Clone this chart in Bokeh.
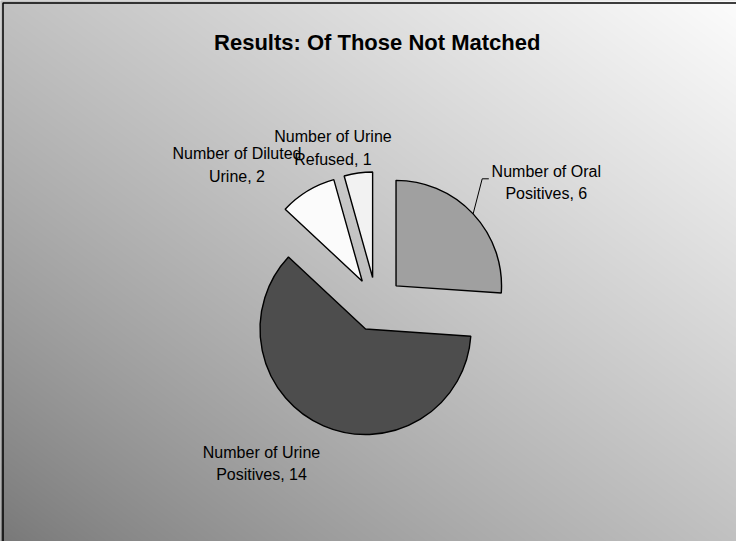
import numpy as np
from bokeh.plotting import figure
from bokeh.models import Range1d, ColumnDataSource
from bokeh.embed import file_html
from bokeh.resources import INLINE
from bokeh.core.properties import value

# ---------------- data ----------------
title_text = "Results: Of Those Not Matched"
categories = ["Oral Positives", "Urine Positives", "Diluted Urine", "Urine Refused"]
counts = [6, 14, 2, 1]
label_line1 = ["Number of Oral", "Number of Urine", "Number of Diluted", "Number of Urine"]
label_line2_word = ["Positives", "Positives", "Urine", "Refused"]

# ---------------- styles / layout ----------------
W, H = 736, 541
slice_colors = ["#a0a0a0", "#4d4d4d", "#fbfbfb", "#f2f2f2"]
pie_cx, pie_cy_screen = 375.8, 303.8
radius = 105.5
explode = 27.0
label_anchor = [(545.8, 170.7), (261.0, 451.8), (236.5, 153.3), (332.5, 136.0)]  # (center x, line1 baseline, screen y)
line_gap = 22.5
FONT = "Liberation Sans"


def sy(y):  # screen y -> data y
    return H - y


p = figure(width=W, height=H, output_backend="svg", toolbar_location=None,
           x_range=Range1d(0, W), y_range=Range1d(0, H),
           min_border=0, min_border_left=0, min_border_right=0,
           min_border_top=0, min_border_bottom=0)
p.axis.visible = False
p.grid.visible = False
p.outline_line_color = None
p.background_fill_color = "#c8c8c8"
p.border_fill_color = "#c8c8c8"

# background gradient: dark bottom-left -> white top-right
pad = 6
GW, GH = W + 2 * pad, H + 2 * pad
gx = np.linspace(-pad / W, 1 + pad / W, GW)[None, :]
gy = np.linspace(-pad / H, 1 + pad / H, GH)[:, None]
t = np.clip((gx + gy) / 2.0, 0, 1) ** 0.85
c_lo, c_hi = 120.0, 252.0
v = (c_lo + (c_hi - c_lo) * t).astype(np.uint32)
img = np.empty((GH, GW), dtype=np.uint32)
view = img.view(dtype=np.uint8).reshape((GH, GW, 4))
view[:, :, 0] = v
view[:, :, 1] = v
view[:, :, 2] = v
view[:, :, 3] = 255
p.image_rgba(image=[img], x=-pad, y=-pad, dw=GW, dh=GH)

# border (top & left visible, right/bottom cut off)
p.line(x=[2.5, 2.5, W + 10], y=[-10, sy(2.5), sy(2.5)], line_color="black", line_width=1.5)

# ---------------- exploded pie ----------------
total = float(sum(counts))
cum = np.concatenate([[0.0], np.cumsum(counts)])
start = np.pi / 2 - 2 * np.pi * cum[:-1] / total
end = np.pi / 2 - 2 * np.pi * cum[1:] / total
mid = (start + end) / 2
cx0, cy0 = pie_cx, sy(pie_cy_screen)
xs = cx0 + explode * np.cos(mid)
ys = cy0 + explode * np.sin(mid)

src = ColumnDataSource(dict(x=xs, y=ys, start=start, end=end, color=slice_colors,
                            cat=categories, count=counts))
p.wedge(x="x", y="y", radius=radius, start_angle="start", end_angle="end",
        direction="clock", fill_color="color", line_color="black", line_width=1.4,
        source=src)

# leader line for the oral slice label
ox = xs[0] + radius * np.cos(mid[0])
oy = ys[0] + radius * np.sin(mid[0])
p.line(x=[ox, 481.7, 488.3], y=[oy, sy(178.3), sy(178.3)], line_color="black", line_width=1)

# ---------------- labels ----------------
for i in range(len(counts)):
    lx, ly = label_anchor[i]
    lines = [label_line1[i], f"{label_line2_word[i]}, {counts[i]}"]
    p.text(x=[lx, lx], y=[sy(ly), sy(ly + line_gap)], text=lines,
           text_font=value(FONT), text_font_size="16px", text_color="#000000",
           text_align="center", text_baseline="alphabetic")

# ---------------- title ----------------
p.text(x=[376.7], y=[sy(41.7)], text=[title_text], text_font=value(FONT),
       text_font_size="22px", text_font_style="bold", text_color="#000000",
       text_align="center", text_baseline="alphabetic")

open("out.html", "w").write(file_html(p, INLINE))
